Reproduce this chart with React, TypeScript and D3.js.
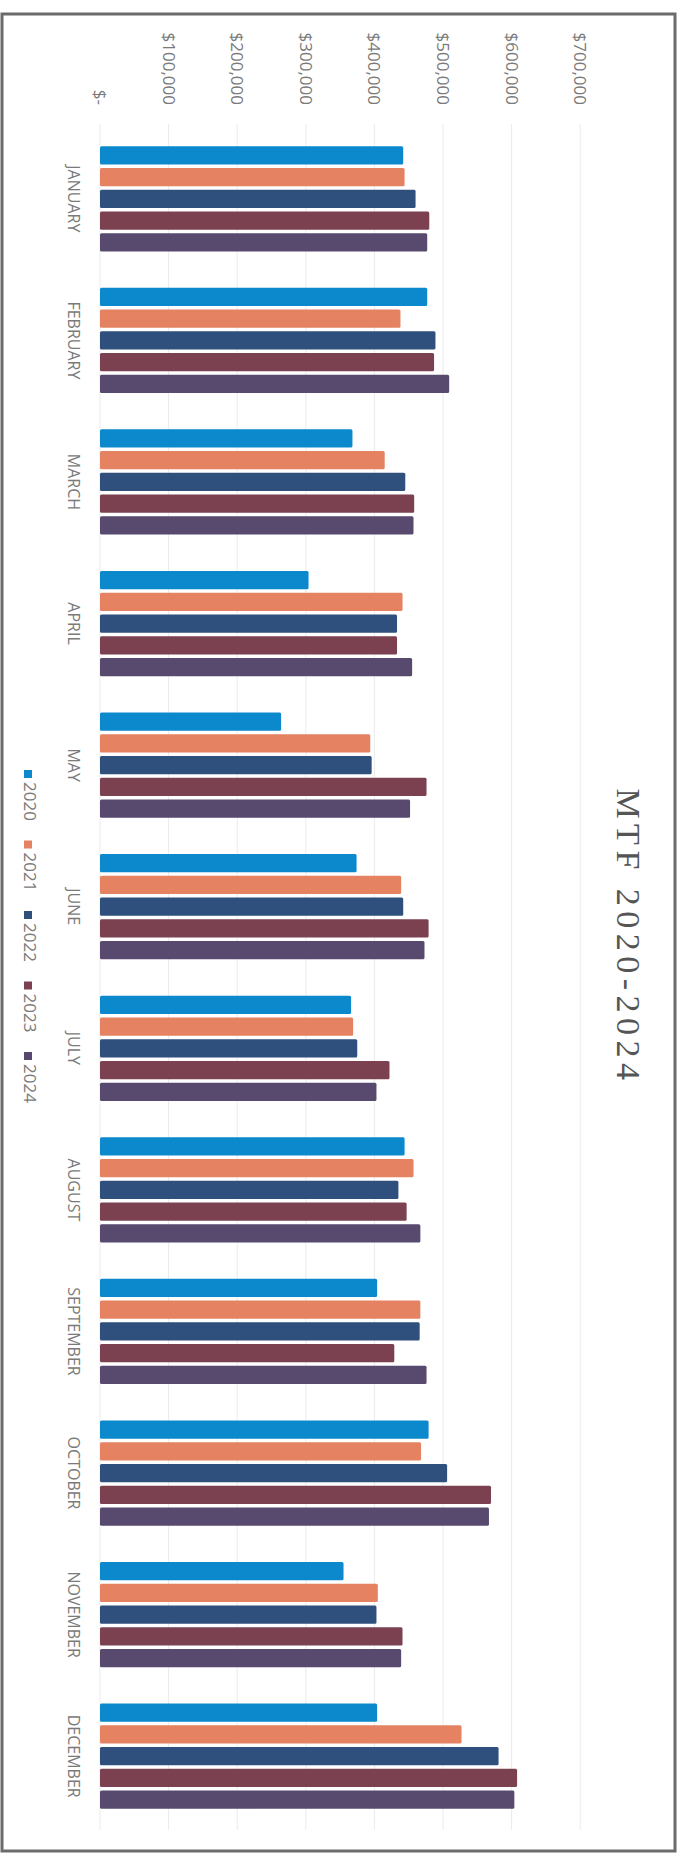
import React from 'react';
import * as d3 from 'd3';

const months = [
    'JANUARY', 'FEBRUARY', 'MARCH', 'APRIL', 'MAY', 'JUNE',
    'JULY', 'AUGUST', 'SEPTEMBER', 'OCTOBER', 'NOVEMBER', 'DECEMBER',
];
const years = ['2020', '2021', '2022', '2023', '2024'];

const sales2020 = [442000, 477000, 368000, 304000, 264000, 374000, 366000, 444000, 404000, 479000, 355000, 404000];
const sales2021 = [444000, 438000, 415000, 441000, 394000, 439000, 369000, 457000, 467000, 468000, 405000, 527000];
const sales2022 = [460000, 489000, 445000, 433000, 396000, 442000, 375000, 435000, 466000, 506000, 403000, 581000];
const sales2023 = [480000, 487000, 458000, 433000, 476000, 479000, 422000, 447000, 429000, 570000, 441000, 608000];
const sales2024 = [477000, 509000, 457000, 455000, 452000, 473000, 403000, 467000, 476000, 567000, 439000, 604000];

const tickValues = [0, 100000, 200000, 300000, 400000, 500000, 600000, 700000];

const colors = ['#0B89CC', '#E48262', '#2F4F7C', '#7B4150', '#574A6E'];

const W = 679;
const H = 1855;

const App: React.FC = () => {
    const series = [sales2020, sales2021, sales2022, sales2023, sales2024];

    // chart is drawn rotated: values run left -> right, months top -> bottom
    const x = d3.scaleLinear().domain([0, 700000]).range([100, 580.2]);

    const y0 = d3
        .scaleBand()
        .domain(months)
        .range([128, 1827])
        .paddingInner(0.232)
        .paddingOuter(0.116);

    const y1 = d3
        .scaleBand()
        .domain(years)
        .range([0, y0.bandwidth()])
        .paddingInner(0.16)
        .paddingOuter(0.08);

    const fmt = d3.format(',');
    const tickLabel = (v: number) => (v === 0 ? '$-' : '$' + fmt(v));

    const legendY = d3.scalePoint().domain(years).range([774, 1056]);

    return (
        <svg
            width={W}
            height={H}
            style={{ position: 'absolute', left: 0, top: 0, display: 'block', background: '#fff' }}
        >
            <rect x={2} y={14} width={673} height={1837} fill="#fff" stroke="#6b6b6b" strokeWidth={3} />

            {/* gridlines */}
            {tickValues.map(t => (
                <line
                    key={'g' + t}
                    x1={x(t)}
                    x2={x(t)}
                    y1={124}
                    y2={1830}
                    stroke="#ebebeb"
                    strokeWidth={1}
                />
            ))}

            {/* value axis labels */}
            {tickValues.map(t => (
                <text
                    key={'t' + t}
                    transform={`translate(${x(t)},105) rotate(90)`}
                    textAnchor="end"
                    dy="0.35em"
                    fontFamily="'Open Sans', sans-serif"
                    fontSize={17}
                    fill="#7a7a7a"
                >
                    {tickLabel(t)}
                </text>
            ))}

            {/* bars */}
            {months.map((m, i) => (
                <g key={m} transform={`translate(0,${y0(m)})`}>
                    {years.map((yr, j) => (
                        <rect
                            key={yr}
                            x={x(0)}
                            y={y1(yr)}
                            width={x(series[j][i]) - x(0)}
                            height={y1.bandwidth()}
                            rx={1.5}
                            fill={colors[j]}
                        />
                    ))}
                </g>
            ))}

            {/* month labels */}
            {months.map(m => (
                <text
                    key={'m' + m}
                    transform={`translate(68,${(y0(m) ?? 0) + y0.bandwidth() / 2}) rotate(90)`}
                    textAnchor="middle"
                    fontFamily="'Open Sans', sans-serif"
                    fontSize={16}
                    fill="#7a7a7a"
                >
                    {m}
                </text>
            ))}

            {/* legend */}
            {years.map((yr, j) => (
                <g key={'l' + yr} transform={`translate(0,${legendY(yr)})`}>
                    <rect x={24} y={-4} width={8} height={8} fill={colors[j]} />
                    <text
                        transform="translate(30,8) rotate(90)"
                        dy="0.35em"
                        fontFamily="'Open Sans', sans-serif"
                        fontSize={17}
                        fill="#7a7a7a"
                    >
                        {yr}
                    </text>
                </g>
            ))}

            {/* title */}
            <text
                transform="translate(617,937) rotate(90)"
                textAnchor="middle"
                fontFamily="'Liberation Serif', serif"
                fontSize={34}
                letterSpacing={5.5}
                fill="#555555"
            >
                MTF 2020-2024
            </text>
        </svg>
    );
};

export default App;
